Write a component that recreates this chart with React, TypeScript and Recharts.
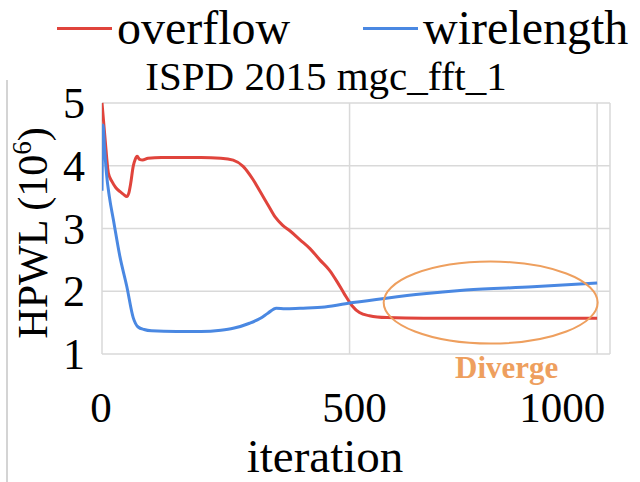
import { LineChart, Line, XAxis, YAxis, CartesianGrid, Legend, ReferenceDot, Label } from "recharts";

const overflowIter = [0, 6, 13, 20, 28, 36, 44, 50, 54, 58, 63, 67, 71, 76, 82, 93, 120, 160, 200, 240, 265, 285, 305, 320, 335, 350, 365, 380, 400, 420, 440, 460, 475, 490, 505, 520, 540, 575, 650, 750, 850, 1000];
const overflowValue = [5.0, 4.45, 3.88, 3.75, 3.65, 3.59, 3.54, 3.51, 3.56, 3.72, 3.99, 4.1, 4.15, 4.1, 4.09, 4.12, 4.13, 4.13, 4.13, 4.12, 4.09, 3.99, 3.78, 3.58, 3.38, 3.18, 3.05, 2.96, 2.82, 2.68, 2.5, 2.33, 2.15, 1.95, 1.77, 1.66, 1.61, 1.58, 1.57, 1.57, 1.57, 1.57];

const wirelengthIter = [0, 2, 5, 9, 15, 23, 36, 50, 63, 73, 85, 100, 150, 200, 240, 265, 298, 320, 335, 352, 370, 400, 450, 507, 574, 650, 735, 870, 1000];
const wirelengthValue = [3.6, 4.65, 4.3, 3.88, 3.5, 3.14, 2.56, 2.08, 1.58, 1.43, 1.39, 1.37, 1.36, 1.36, 1.38, 1.41, 1.49, 1.57, 1.65, 1.73, 1.72, 1.73, 1.75, 1.82, 1.89, 1.96, 2.02, 2.07, 2.13];

const xTicks = [0, 500, 1000];
const yTicks = [1, 2, 3, 4, 5];
const diverge = { iteration: 785, value: 1.82 };

const overflowData = overflowIter.map((it, i) => ({ iteration: it, overflow: overflowValue[i] }));
const wirelengthData = wirelengthIter.map((it, i) => ({ iteration: it, wirelength: wirelengthValue[i] }));

const serif = `"Liberation Serif", "Times New Roman", Tinos`;
const RED = "#E0443C";
const BLUE = "#4A88E2";
const ORANGE = "#EE9F5E";
const GRID = "#D9D9D9";

function XTick({ x, y, payload }: any) {
  // Excel pulls the last label back inside the plot
  const shift = payload.value === 1000 ? -35 : payload.value === 500 ? 5 : -1;
  return (
    <text x={x + shift} y={y} dy={68} textAnchor="middle" fontSize={43} style={{ fontFamily: serif }} fill="#000">
      {payload.value}
    </text>
  );
}

function YTick({ x, y, payload }: any) {
  return (
    <text x={x} y={y} dy={15} textAnchor="end" fontSize={44} style={{ fontFamily: serif }} fill="#000">
      {payload.value}
    </text>
  );
}

function LegendContent({ payload }: any) {
  const lefts = [57, 363];
  return (
    <div style={{ position: "relative", width: 640, height: 60, fontFamily: serif }}>
      {(payload || []).map((p: any, i: number) => (
        <div key={p.value} style={{ position: "absolute", left: lefts[i], top: 0, height: 60 }}>
          <span style={{ position: "absolute", left: 0, top: 27, width: 55, height: 3, background: p.color }} />
          <span style={{ position: "absolute", left: 60, top: 2, fontSize: 48, lineHeight: "52px", color: "#000", whiteSpace: "nowrap", fontFamily: serif }}>
            {p.value}
          </span>
        </div>
      ))}
    </div>
  );
}

function DivergeMark({ cx, cy }: any) {
  return (
    <g>
      <ellipse cx={cx} cy={cy} rx={107} ry={41} fill="none" stroke={ORANGE} strokeWidth={2} />
      <text x={cx + 16} y={cy + 75} textAnchor="middle" fontSize={31} fontWeight="bold" style={{ fontFamily: serif }} fill={ORANGE}>
        Diverge
      </text>
    </g>
  );
}

export default function App() {
  return (
    <div style={{ position: "absolute", left: 0, top: 0, width: 640, height: 482, background: "#fff", fontFamily: serif }}>
      <div style={{ position: "absolute", left: 6, top: 80, width: 2, height: 402, background: "#D4D4D4" }} />
      <div
        style={{
          position: "absolute",
          left: 0,
          width: 652,
          top: 56,
          textAlign: "center",
          fontFamily: serif,
          fontSize: 41,
          lineHeight: "40px",
          color: "#000",
          whiteSpace: "nowrap",
        }}
      >
        ISPD 2015 mgc_fft_1
      </div>
      <LineChart width={640} height={482} margin={{ top: 103, right: 30, bottom: 0, left: 0 }} style={{ fontFamily: serif }}>
        <CartesianGrid stroke={GRID} strokeWidth={1.5} />
        <XAxis
          dataKey="iteration"
          type="number"
          domain={[0, 1026]}
          ticks={xTicks}
          allowDataOverflow
          height={128}
          axisLine={false}
          tickLine={false}
          tickSize={0}
          tickMargin={0}
          tick={<XTick />}
        >
          <Label
            content={({ viewBox }: any) => (
              <text x={viewBox.x + 223} y={viewBox.y + 118} textAnchor="middle" fontSize={47} style={{ fontFamily: serif }} fill="#000">
                iteration
              </text>
            )}
          />
        </XAxis>
        <YAxis
          type="number"
          domain={[1, 5]}
          ticks={yTicks}
          width={102}
          axisLine={false}
          tickLine={false}
          tickSize={0}
          tickMargin={17}
          tick={<YTick />}
        >
          <Label
            content={({ viewBox }: any) => {
              const x = viewBox.x + 47;
              const y = viewBox.y + 130;
              return (
                <text transform={`rotate(-90 ${x} ${y})`} x={x} y={y} textAnchor="middle" fontSize={42} style={{ fontFamily: serif }} fill="#000">
                  HPWL (10
                  <tspan dy={-16} fontSize={27}>6</tspan>
                  <tspan dy={16}>)</tspan>
                </text>
              );
            }}
          />
        </YAxis>
        <Legend
          layout="horizontal"
          verticalAlign="middle"
          align="center"
          wrapperStyle={{ position: "absolute", top: 0, left: 0, width: 640, height: 60 }}
          content={<LegendContent />}
        />
        <Line
          data={overflowData}
          dataKey="overflow"
          name="overflow"
          type="monotone"
          stroke={RED}
          strokeWidth={3}
          dot={false}
          isAnimationActive={false}
        />
        <Line
          data={wirelengthData}
          dataKey="wirelength"
          name="wirelength"
          type="monotone"
          stroke={BLUE}
          strokeWidth={3}
          dot={false}
          isAnimationActive={false}
        />
        <ReferenceDot x={diverge.iteration} y={diverge.value} r={0} shape={<DivergeMark />} />
      </LineChart>
    </div>
  );
}
